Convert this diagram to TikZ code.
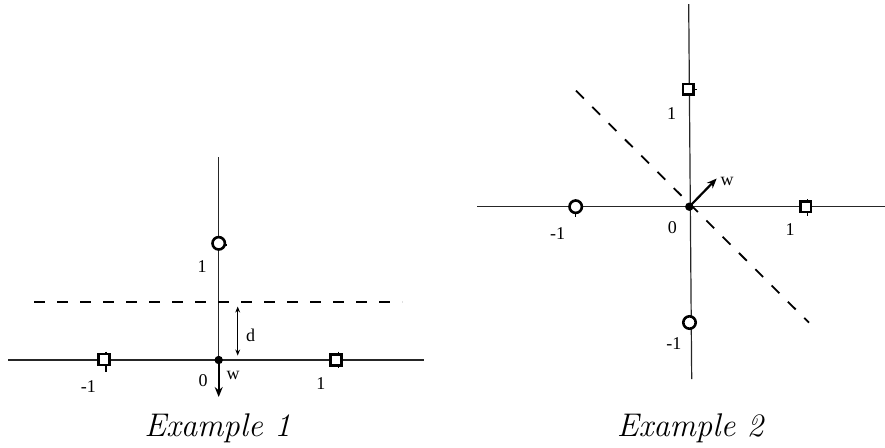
\documentclass[tikz,border=0pt]{standalone}
\usepackage{fontspec}
\newfontfamily\lblfont{Liberation Serif}
\usetikzlibrary{arrows.meta}
\tikzset{
  axis/.style={line width=0.6pt, draw=black!85},
  tickmark/.style={line width=0.6pt},
  sq/.style={draw, rectangle, fill=white, line width=1.3pt, inner sep=0pt, minimum size=5.4pt},
  circ/.style={draw, circle, fill=white, line width=1.3pt, inner sep=0pt, minimum size=6.2pt},
  dot/.style={circle, fill=black, inner sep=0pt, minimum size=4.2pt},
  sep/.style={dashed, line width=0.9pt, dash pattern=on 5.5pt off 6pt},
  wvec/.style={line width=1.1pt, -{Stealth[length=5pt,width=4pt]}},
  dist/.style={line width=0.45pt, {Stealth[length=3pt,width=2.4pt]}-{Stealth[length=3pt,width=2.4pt]}},
  lbl/.style={font=\lblfont\fontsize{9}{11}\selectfont, inner sep=0pt},
  title/.style={font=\fontsize{16.4}{19}\selectfont\itshape, inner sep=0pt, anchor=base}
}
\begin{document}
\begin{tikzpicture}[x=0.5pt,y=-0.5pt]
\useasboundingbox (0,0) rectangle (885,447);
% ---------- Example 1 ----------
\coordinate (O1) at (218.7,360);
\coordinate (h1l) at (8,360);
\coordinate (h1r) at (424,360);
\coordinate (v1t) at (218.7,157);
\coordinate (w1) at (218.7,397);
\coordinate (dl) at (34,302);
\coordinate (dr) at (402,302);
\coordinate (da) at (237.7,306.5);
\coordinate (db) at (237.7,355.5);
\draw[axis] (h1l) -- (h1r);
\draw[axis] (v1t) -- (O1);
\draw[sep] (dl) -- (dr);
\coordinate (t1a) at (106,351.7);  \coordinate (t1b) at (106,371.7);
\coordinate (t2a) at (338.3,351.7); \coordinate (t2b) at (338.3,368.3);
\coordinate (t3a) at (212,245);    \coordinate (t3b) at (227,245);
\draw[tickmark] (t1a) -- (t1b);
\draw[tickmark] (t2a) -- (t2b);
\draw[tickmark] (t3a) -- (t3b);
\node[sq] (s1) at (104,359.5) {};
\node[sq] (s2) at (335.8,360) {};
\node[circ] (c1) at (218.7,243.3) {};
\draw[dist] (da) -- (db);
\draw[wvec] (O1) -- (w1);
\node[dot] (o1) at (O1) {};
\node[lbl] (l1a) at (202.2,266.5) {1};
\node[lbl] (l1d) at (250.5,335.3) {d};
\node[lbl] (l1o) at (203,380.7) {0};
\node[lbl] (l1w) at (233,375) {w};
\node[lbl] (l1m) at (88.3,386.5) {-1};
\node[lbl] (l1p) at (320.8,383.3) {1};
\node[title] (t1) at (217.5,436.7) {Example 1};
% ---------- Example 2 ----------
\coordinate (O2) at (689.3,206.7);
\coordinate (h2l) at (477,206.7);
\coordinate (h2r) at (885,206.7);
\coordinate (v2t) at (688.7,4);
\coordinate (v2b) at (691.7,379);
\coordinate (el) at (576,90.7);
\coordinate (er) at (809,322.7);
\coordinate (w2) at (716.7,178.5);
\draw[axis] (h2l) -- (h2r);
\draw[axis] (v2t) -- (v2b);
\draw[sep] (el) -- (er);
\coordinate (u1a) at (681.7,89.3); \coordinate (u1b) at (697.3,89.3);
\coordinate (u2a) at (807.7,199);  \coordinate (u2b) at (807.7,216);
\coordinate (u3a) at (575.7,199);  \coordinate (u3b) at (575.7,217.3);
\draw[tickmark] (u1a) -- (u1b);
\draw[tickmark] (u2a) -- (u2b);
\draw[tickmark] (u3a) -- (u3b);
\node[sq] (s3) at (688.3,89.3) {};
\node[sq] (s4) at (805.7,206.7) {};
\node[circ] (c2) at (575.7,206.7) {};
\node[circ] (c3) at (689.5,322.5) {};
\draw[wvec] (O2) -- (w2);
\node[dot] (o2) at (O2) {};
\node[lbl] (l2t) at (671.7,113.3) {1};
\node[lbl] (l2m) at (557.7,233.3) {-1};
\node[lbl] (l2o) at (672.3,227.7) {0};
\node[lbl] (l2p) at (790,229.3) {1};
\node[lbl] (l2b) at (673.8,343.8) {-1};
\node[lbl] (l2w) at (727,181.5) {w};
\node[title] (t2) at (690,436.7) {Example 2};
\end{tikzpicture}
\end{document}
